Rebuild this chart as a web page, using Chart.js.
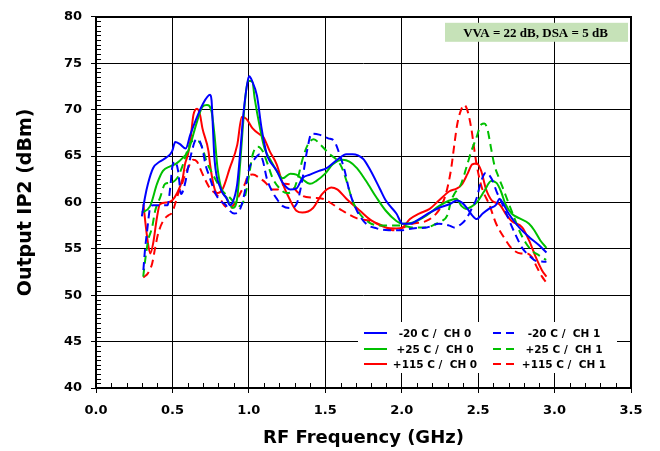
<!DOCTYPE html>
<html><head><meta charset="utf-8">
<script src="https://cdn.jsdelivr.net/npm/chart.js@4.4.0/dist/chart.umd.min.js"></script>
<style>html,body{margin:0;padding:0;background:#fff;}canvas{display:block;}</style>
</head><body>
<canvas id="c" width="660" height="451" style="width:660px;height:451px"></canvas>
<script>
// ---- data (RF frequency in GHz, Output IP2 in dBm) ----
const xTickValues = [0.0, 0.5, 1.0, 1.5, 2.0, 2.5, 3.0, 3.5];
const yTickValues = [40, 45, 50, 55, 60, 65, 70, 75, 80];
const seriesLabels = ['-20 C /  CH 0', '-20 C /  CH 1', '+25 C /  CH 0', '+25 C /  CH 1', '+115 C /  CH 0', '+115 C /  CH 1'];
const annotationText = 'VVA = 22 dB, DSA = 5 dB';

const m20_ch0 = [[0.30,58.5],[0.32,60.5],[0.34,62],[0.374,63.7],[0.418,64.4],[0.458,64.8],[0.498,65.5],[0.518,66.5],[0.547,66.3],[0.587,65.8],[0.617,67.3],[0.656,69],[0.696,70.5],[0.746,71.6],[0.756,71],[0.765,68],[0.775,64.7],[0.815,61.5],[0.855,60.4],[0.875,59.7],[0.894,60.0],[0.924,62],[0.944,65.5],[0.964,69.5],[0.994,73.2],[1.003,73.6],[1.023,73],[1.053,71.5],[1.083,68],[1.117,65.2],[1.132,64.6],[1.182,63.4],[1.222,62.1],[1.271,61.4],[1.311,61.5],[1.350,62.6],[1.400,63],[1.459,63.4],[1.509,63.7],[1.578,64.6],[1.638,65.2],[1.678,65.2],[1.747,64.7],[1.787,63.7],[1.856,61.5],[1.896,60.2],[1.965,58.8],[2.005,57.7],[2.054,57.7],[2.114,58.2],[2.183,58.9],[2.243,59.4],[2.312,59.8],[2.362,60.2],[2.392,60.0],[2.431,59.3],[2.461,58.6],[2.491,58.2],[2.530,58.8],[2.570,59.3],[2.620,59.8],[2.639,60.4],[2.659,60.0],[2.699,58.8],[2.768,57.3],[2.838,56.2],[2.897,55.4],[2.947,54.6]];
const m20_ch1 = [[0.31,52.7],[0.32,54.8],[0.335,57],[0.354,59.4],[0.374,59.7],[0.468,59.7],[0.488,62],[0.498,63.7],[0.518,64.4],[0.537,63.4],[0.557,60.9],[0.582,62],[0.602,63.7],[0.627,65.5],[0.647,66.6],[0.666,66.8],[0.696,65.8],[0.716,64.1],[0.746,62.6],[0.775,61.2],[0.810,60.2],[0.845,59.8],[0.875,59.1],[0.904,58.8],[0.929,58.9],[0.954,59.8],[0.974,61.2],[1.003,63.7],[1.038,64.7],[1.073,65.2],[1.093,64.4],[1.117,62.6],[1.152,61.2],[1.182,60.4],[1.222,59.6],[1.271,59.4],[1.311,59.8],[1.345,62],[1.380,65.5],[1.410,67.4],[1.459,67.3],[1.519,66.9],[1.559,66.6],[1.593,65.2],[1.627,63.4],[1.658,61.2],[1.707,59.1],[1.767,57.7],[1.836,57.2],[1.915,57],[2.005,57],[2.069,57.2],[2.163,57.3],[2.243,57.7],[2.312,57.5],[2.342,57.3],[2.392,57.7],[2.421,58.2],[2.451,59.1],[2.491,60.5],[2.520,62.3],[2.550,63.2],[2.590,62.5],[2.620,61.2],[2.659,59.8],[2.699,58.2],[2.748,56.4],[2.788,55.1],[2.838,54.2],[2.877,53.7],[2.947,53.6]];
const p25_ch0 = [[0.30,58.9],[0.354,59.6],[0.399,62],[0.438,63.4],[0.488,63.9],[0.527,64.2],[0.567,64.8],[0.602,65.5],[0.661,68.7],[0.696,70.3],[0.726,70.5],[0.756,69.8],[0.775,67.3],[0.795,63.7],[0.825,61.2],[0.855,60.5],[0.875,59.8],[0.894,59.4],[0.924,60.5],[0.944,64.4],[0.974,70.8],[0.994,73.1],[1.023,73],[1.038,71.2],[1.073,68],[1.103,65.8],[1.137,64.7],[1.182,63.4],[1.222,62.6],[1.271,63.1],[1.311,63],[1.350,62.5],[1.400,62],[1.440,62.3],[1.499,63.1],[1.549,64.1],[1.613,64.6],[1.658,64.4],[1.707,63.7],[1.767,62.3],[1.836,60.5],[1.896,59.1],[1.965,58],[2.005,57.7],[2.069,57.8],[2.163,58.6],[2.243,59.6],[2.312,60.2],[2.357,60.4],[2.392,59.6],[2.421,59.3],[2.461,59.6],[2.491,60],[2.540,61.2],[2.585,62.3],[2.620,62.1],[2.649,61.2],[2.679,59.8],[2.719,58.8],[2.768,58.3],[2.833,57.7],[2.867,57],[2.907,55.9],[2.947,55.1]];
const p25_ch1 = [[0.309,52],[0.322,53.8],[0.341,55.9],[0.367,57.3],[0.387,59.1],[0.419,60.5],[0.452,62],[0.484,62.1],[0.530,62.6],[0.563,63.8],[0.596,65.5],[0.628,66.6],[0.667,66.6],[0.693,66],[0.726,64.3],[0.765,63],[0.798,62],[0.830,61.2],[0.876,60.5],[0.915,59.8],[0.941,59.6],[0.974,60.6],[1.0,62.8],[1.026,65.2],[1.058,66],[1.091,65.5],[1.117,64.4],[1.156,62.6],[1.202,61.5],[1.248,61],[1.287,61.2],[1.320,62.6],[1.352,64.7],[1.385,66.2],[1.424,66.8],[1.470,66.2],[1.528,65.2],[1.574,64.6],[1.607,63.8],[1.639,62.3],[1.678,60.2],[1.724,58.8],[1.790,57.8],[1.855,57.5],[1.939,57.5],[2.005,57.5],[2.069,57.3],[2.161,57.3],[2.226,57.7],[2.265,58],[2.298,58.6],[2.324,60.2],[2.344,60.9],[2.389,62],[2.422,63.7],[2.455,65.5],[2.487,66.9],[2.520,68.4],[2.540,68.5],[2.559,68],[2.585,65.8],[2.605,64.1],[2.637,62.6],[2.670,61.2],[2.702,59.8],[2.735,58.4],[2.768,57],[2.813,55.6],[2.852,54.8],[2.898,54.3],[2.944,53.8]];
const p115_ch0 = [[0.31,59.8],[0.335,56.2],[0.355,54.5],[0.374,55.6],[0.399,58.4],[0.418,59.8],[0.468,60],[0.498,60.2],[0.527,60.9],[0.567,62.6],[0.582,64.1],[0.602,65.2],[0.617,66.6],[0.637,69.4],[0.661,70.1],[0.681,69.4],[0.696,68],[0.736,65.5],[0.746,64.1],[0.775,61.5],[0.795,61],[0.830,61.5],[0.875,63.7],[0.924,66.2],[0.954,69.2],[0.984,69],[1.023,68],[1.073,67.3],[1.093,67.1],[1.137,65.5],[1.182,64.1],[1.222,62],[1.271,60.2],[1.311,59.1],[1.350,58.9],[1.420,59.4],[1.479,60.9],[1.539,61.6],[1.578,61.4],[1.638,60.4],[1.727,59.1],[1.806,58],[1.896,57.3],[1.965,57.2],[2.005,57.3],[2.054,58.2],[2.114,58.8],[2.183,59.3],[2.243,60.2],[2.312,61.2],[2.362,61.5],[2.392,61.9],[2.431,63.1],[2.461,64.1],[2.491,64.2],[2.520,63.4],[2.550,61.5],[2.590,60.2],[2.639,59.8],[2.679,58.8],[2.719,58],[2.788,57.3],[2.833,55.9],[2.877,54.1],[2.917,52.7],[2.947,52]];
const p115_ch1 = [[0.309,51.9],[0.341,52.4],[0.367,53.4],[0.387,55.1],[0.406,56.6],[0.439,58],[0.472,58.6],[0.498,58.9],[0.517,59.8],[0.537,60.9],[0.563,62],[0.583,63],[0.602,63.7],[0.635,64.6],[0.661,64.4],[0.680,63.7],[0.713,62.5],[0.746,61.5],[0.778,61],[0.811,60.4],[0.843,59.6],[0.876,59.4],[0.909,59.9],[0.941,60.9],[0.974,62],[0.993,62.8],[1.026,63],[1.072,62.6],[1.111,62.1],[1.150,61.4],[1.189,61.4],[1.235,62],[1.274,61.9],[1.313,61.2],[1.352,60.7],[1.417,60.5],[1.483,60.4],[1.548,59.8],[1.613,59.1],[1.704,58.3],[1.789,58],[1.874,57.5],[1.939,57],[1.985,57.1],[2.069,57.7],[2.161,58],[2.226,58.8],[2.265,59.8],[2.298,61.5],[2.324,63.7],[2.344,66.2],[2.363,68.4],[2.389,70],[2.409,70.5],[2.428,70],[2.455,68],[2.474,65.8],[2.494,63.7],[2.526,61.5],[2.572,59.8],[2.618,57.7],[2.670,56.2],[2.722,55],[2.780,54.5],[2.820,54.5],[2.852,54.1],[2.885,53],[2.918,52],[2.944,51.4]];

const seriesData = [m20_ch0, m20_ch1, p25_ch0, p25_ch1, p115_ch0, p115_ch1];
const seriesColors = ['#0000ff', '#0000ff', '#00c000', '#00c000', '#ff0000', '#ff0000'];
const seriesDashed = [false, true, false, true, false, true];

const DASH = [8, 5];
const datasets = seriesData.map((pts, i) => ({
  label: seriesLabels[i],
  data: pts.map(p => ({x: p[0], y: p[1]})),
  borderColor: seriesColors[i],
  backgroundColor: seriesColors[i],
  borderWidth: 2,
  borderDash: seriesDashed[i] ? DASH : [],
  pointRadius: 0,
  fill: false,
  cubicInterpolationMode: 'monotone'
}));

const tickFont = {family: '"DejaVu Sans", sans-serif', size: 13, weight: 'bold'};
const titleFont = {family: '"DejaVu Sans", sans-serif', size: 18, weight: 'bold'};

const decor = {
  id: 'decor',
  afterDatasetsDraw(chart) {
    const {ctx, chartArea: a, scales: {x, y}} = chart;
    ctx.save();
    // annotation box
    const bx0 = a.right - 186, bx1 = a.right - 3, by0 = a.top + 6, by1 = a.top + 25;
    ctx.fillStyle = '#c6e2b8';
    ctx.fillRect(bx0, by0, bx1 - bx0, by1 - by0);
    ctx.fillStyle = '#000';
    ctx.font = 'bold 13px "Liberation Serif", "Times New Roman", serif';
    ctx.textAlign = 'center'; ctx.textBaseline = 'middle';
    ctx.fillText(annotationText, (bx0 + bx1) / 2 - 1, (by0 + by1) / 2 + 1);

    // legend
    const lx0 = a.right - 273, lx1 = a.right - 14, ly0 = a.bottom - 66, ly1 = a.bottom - 15;
    ctx.fillStyle = '#fff';
    ctx.fillRect(lx0, ly0, lx1 - lx0, ly1 - ly0);
    const rows = [a.bottom - 55, a.bottom - 39, a.bottom - 24];
    const cols = [{l0: lx0 + 6, l1: lx0 + 29, tc: lx0 + 77}, {l0: lx0 + 135, l1: lx0 + 157, tc: lx0 + 206}];
    ctx.font = 'bold 10.5px "DejaVu Sans", sans-serif';
    ctx.textAlign = 'center'; ctx.textBaseline = 'middle';
    chart.data.datasets.forEach((ds, i) => {
      const r = Math.floor(i / 2), c = i % 2;
      const yy = rows[r];
      ctx.strokeStyle = ds.borderColor; ctx.lineWidth = 2;
      ctx.setLineDash(ds.borderDash || []);
      ctx.beginPath(); ctx.moveTo(cols[c].l0, yy); ctx.lineTo(cols[c].l1, yy); ctx.stroke();
      ctx.setLineDash([]);
      ctx.fillStyle = '#000';
      ctx.fillText(ds.label, cols[c].tc, yy + 1);
    });

    // minor ticks (inside)
    ctx.strokeStyle = '#000'; ctx.lineWidth = 1;
    ctx.beginPath();
    for (let k = 1; k < 80; k++) {
      if (k % 10 === 0) continue;
      const py = Math.round(y.getPixelForValue(40 + k * 0.5)) + 0.5;
      ctx.moveTo(a.left, py); ctx.lineTo(a.left + 5, py);
    }
    for (let k = 1; k < 35; k++) {
      if (k % 5 === 0) continue;
      const px = Math.round(x.getPixelForValue(k * 0.1)) + 0.5;
      ctx.moveTo(px, a.bottom); ctx.lineTo(px, a.bottom - 5);
    }
    ctx.stroke();
    // frame
    ctx.lineWidth = 2;
    ctx.strokeRect(Math.round(a.left), Math.round(a.top), Math.round(a.right - a.left), Math.round(a.bottom - a.top));
    ctx.restore();
  }
};

new Chart(document.getElementById('c'), {
  type: 'line',
  data: {datasets},
  options: {
    responsive: false,
    animation: false,
    devicePixelRatio: 1,
    layout: {padding: {top: 14, right: 29, left: 0, bottom: 0}},
    scales: {
      x: {
        type: 'linear', min: 0, max: 3.5,
        afterBuildTicks: s => { s.ticks = xTickValues.map(v => ({value: v})); },
        afterFit: s => { s.height = 63; },
        ticks: {font: tickFont, color: '#000', padding: 10, maxRotation: 0, autoSkip: false, callback: v => Number(v).toFixed(1)},
        grid: {color: '#000', lineWidth: 1, drawTicks: true, tickLength: 5, tickColor: '#000'},
        border: {display: false},
        title: {display: true, text: 'RF Frequency (GHz)', font: titleFont, color: '#000', padding: {top: 0, bottom: 2}}
      },
      y: {
        type: 'linear', min: 40, max: 80,
        afterBuildTicks: s => { s.ticks = yTickValues.map(v => ({value: v})); },
        afterFit: s => { s.width = 96; },
        ticks: {font: tickFont, color: '#000', padding: 9, autoSkip: false},
        grid: {color: '#000', lineWidth: 1, drawTicks: true, tickLength: 5, tickColor: '#000'},
        border: {display: false},
        title: {display: true, text: 'Output IP2 (dBm)', font: {family: '"DejaVu Sans", sans-serif', size: 19, weight: 'bold'}, color: '#000', padding: {top: 15, bottom: 0}}
      }
    },
    plugins: {legend: {display: false}, tooltip: {enabled: false}}
  },
  plugins: [decor]
});
</script>
</body></html>
